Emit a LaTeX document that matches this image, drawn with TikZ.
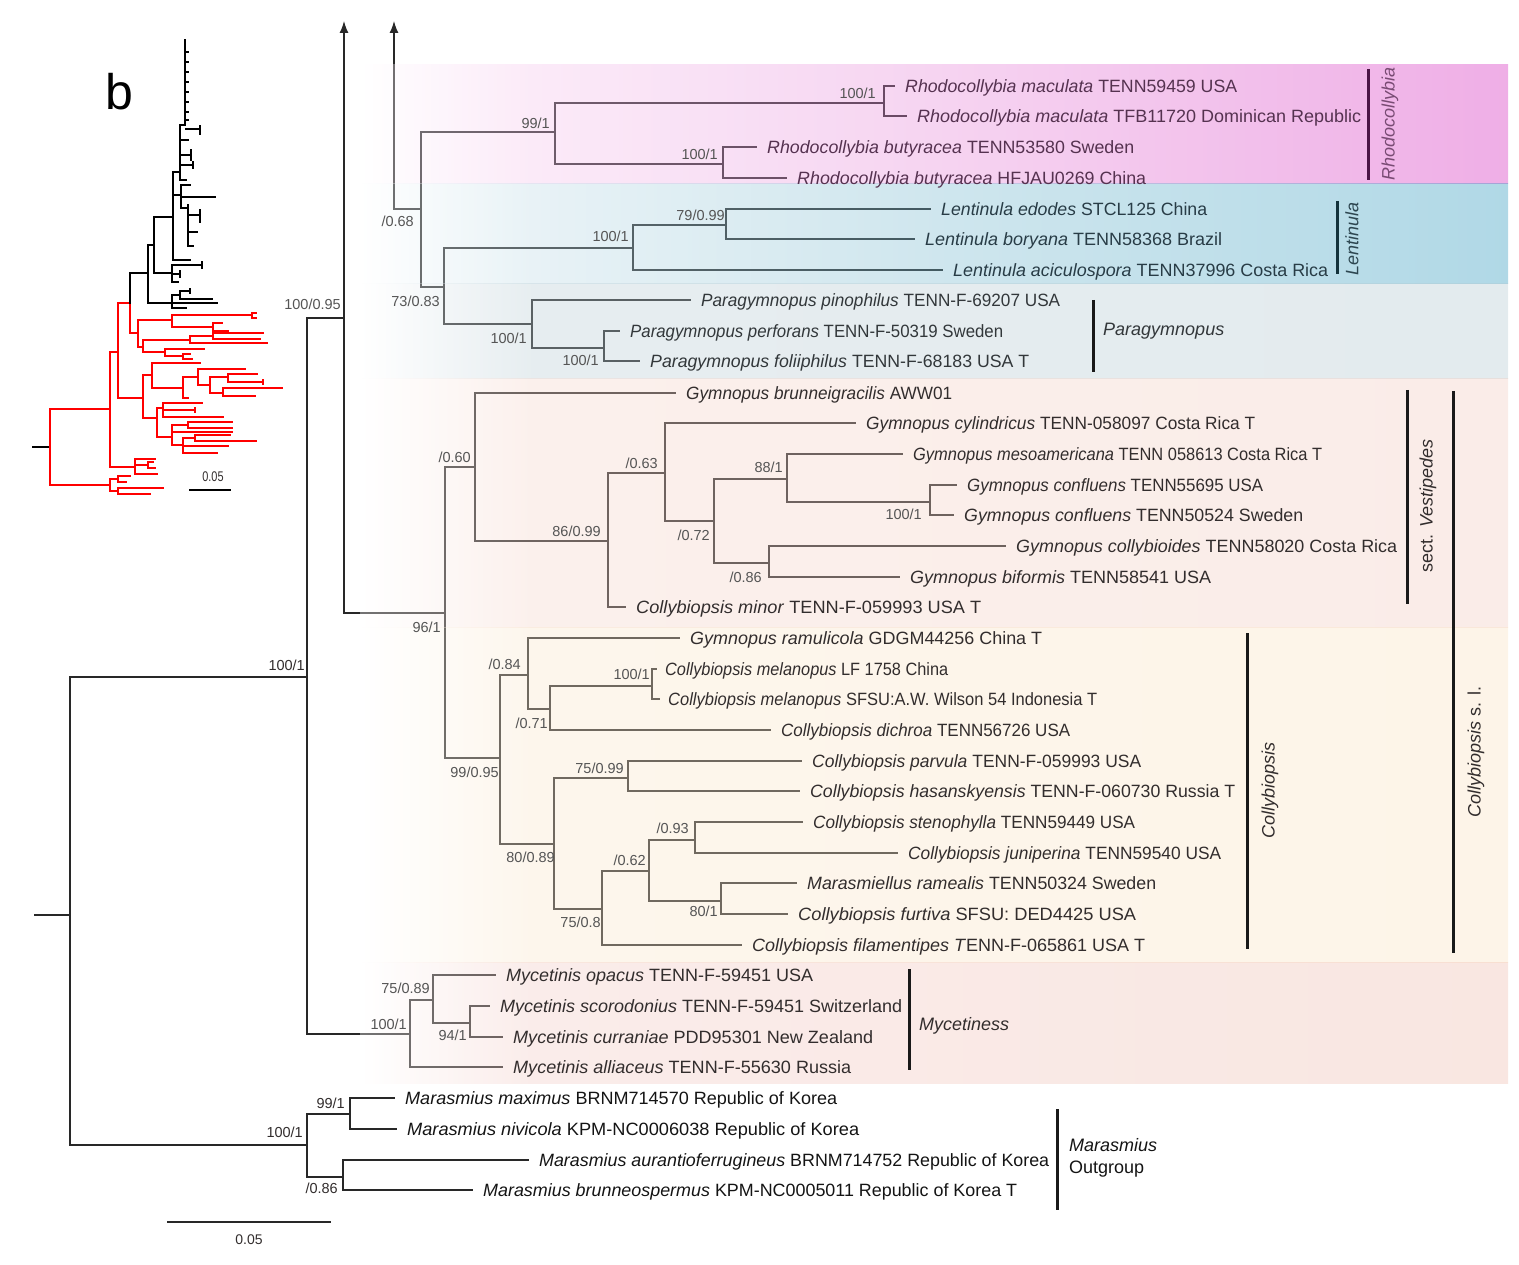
\documentclass[tikz,border=0pt]{standalone}
\usepackage{fontspec}
\setmainfont{Liberation Sans}
\usepackage{graphicx}
\usetikzlibrary{arrows.meta}
\definecolor{treec}{RGB}{40,40,40}
\definecolor{supc}{RGB}{85,85,85}
\definecolor{txP}{RGB}{85,50,80}
\definecolor{txB}{RGB}{40,60,70}
\definecolor{txG}{RGB}{50,55,58}
\definecolor{txO}{RGB}{50,45,45}
\definecolor{txM}{RGB}{20,20,20}
\definecolor{rhobar}{RGB}{75,20,70}
\definecolor{rholab}{RGB}{120,75,115}
\definecolor{lenbar}{RGB}{20,50,60}
\definecolor{lenlab}{RGB}{45,70,80}
\definecolor{barc}{RGB}{25,25,25}
\definecolor{pinkA}{RGB}{244,195,235}
\definecolor{pinkB}{RGB}{229,132,215}
\definecolor{pinkC}{RGB}{209,24,184}
\definecolor{blueA}{RGB}{189,218,229}
\definecolor{blueB}{RGB}{118,184,206}
\definecolor{blueC}{RGB}{29,144,184}
\definecolor{grayA}{RGB}{184,204,212}
\definecolor{grayC}{RGB}{175,198,206}
\definecolor{vestA}{RGB}{244,212,201}
\definecolor{vestC}{RGB}{241,201,189}
\definecolor{collA}{RGB}{249,229,201}
\definecolor{collC}{RGB}{249,224,189}
\definecolor{mycA}{RGB}{241,201,195}
\definecolor{mycC}{RGB}{238,184,169}
\pgfdeclarehorizontalshading{pinkband}{100bp}{color(0bp)=(white); color(25bp)=(white); color(32.5bp)=(pinkA); color(50bp)=(pinkB); color(75bp)=(pinkC); color(100bp)=(pinkC)}
\pgfdeclarehorizontalshading{blueband}{100bp}{color(0bp)=(white); color(25bp)=(white); color(32.5bp)=(blueA); color(50bp)=(blueB); color(75bp)=(blueC); color(100bp)=(blueC)}
\pgfdeclarehorizontalshading{grayband}{100bp}{color(0bp)=(white); color(25bp)=(white); color(32.5bp)=(grayA); color(75bp)=(grayC); color(100bp)=(grayC)}
\pgfdeclarehorizontalshading{vestband}{100bp}{color(0bp)=(white); color(25bp)=(white); color(32.5bp)=(vestA); color(75bp)=(vestC); color(100bp)=(vestC)}
\pgfdeclarehorizontalshading{collband}{100bp}{color(0bp)=(white); color(25bp)=(white); color(32.5bp)=(collA); color(75bp)=(collC); color(100bp)=(collC)}
\pgfdeclarehorizontalshading{mycband}{100bp}{color(0bp)=(white); color(25bp)=(white); color(32.5bp)=(mycA); color(75bp)=(mycC); color(100bp)=(mycC)}
\pgfdeclarelayer{lines}
\pgfdeclarelayer{bands}
\pgfsetlayers{lines,bands,main}
\newlength\fitlen
\newcommand\fitw[2]{\settowidth{\fitlen}{#2}\pgfmathsetmacro\fitf{#1/\fitlen}\scalebox{\fitf}[1]{#2}}
\newcommand\taxon[3]{\fitw{#1}{\textit{#2} #3}}
\begin{document}
\begin{tikzpicture}[x=1pt,y=-1pt,
  br/.style={line width=1.3pt, draw=treec, line cap=rect},
  leaf/.style={anchor=west, inner sep=0pt, text height=12.7pt, text depth=0pt, font=\fontsize{17.8}{20}\selectfont},
  lP/.style={leaf, text=txP}, lB/.style={leaf, text=txB}, lG/.style={leaf, text=txG},
  lO/.style={leaf, text=txO}, lM/.style={leaf, text=txM},
  sup/.style={anchor=east, inner sep=0pt, text height=10.4pt, text depth=0pt, font=\fontsize{14.5}{16}\selectfont, text=supc},
  cbar/.style={line width=3pt, draw=barc},
  clab/.style={inner sep=0pt, font=\fontsize{18}{20}\selectfont, text=txO},
  rlab/.style={clab, rotate=90},
  arr/.style={br, -{Latex[length=12pt,width=9pt]}},
  inr/.style={line width=1.2pt, draw=red, line cap=rect},
  inb/.style={line width=1.2pt, draw=black, line cap=rect}]
\useasboundingbox (0,0) rectangle (1519,1265);

% ---------------- tree node coordinates ----------------
\coordinate (stub) at (35,915);
\coordinate (root) at (70,915);
\coordinate (nA) at (307,677);
\coordinate (nMar) at (307,1145);
\coordinate (nB) at (344,318);
\coordinate (aT1) at (344,21);
\coordinate (nArr) at (394,209);
\coordinate (aT2) at (394,21);
\coordinate (n68) at (421,209);
\coordinate (nRh) at (555,132);
\coordinate (nRm) at (884,103);
\coordinate (nRb) at (723,164);
\coordinate (n73) at (444,287);
\coordinate (nLe) at (633,248);
\coordinate (nLe2) at (726,225);
\coordinate (nPa) at (532,324);
\coordinate (nPa2) at (604,348);
\coordinate (nC) at (445,613);
\coordinate (n60) at (475,467);
\coordinate (n86) at (608,541);
\coordinate (n63) at (665,473);
\coordinate (n72) at (714,521);
\coordinate (n88) at (787,479);
\coordinate (nCf) at (930,502);
\coordinate (n086) at (769,563);
\coordinate (n9995) at (500,758);
\coordinate (n84) at (528,675);
\coordinate (n71) at (550,709);
\coordinate (nMel) at (652,686);
\coordinate (n89) at (554,844);
\coordinate (n7599) at (628,778);
\coordinate (n758) at (602,909);
\coordinate (n62) at (649,871);
\coordinate (n93) at (695,840);
\coordinate (n801) at (721,901);
\coordinate (nMyc) at (410,1034);
\coordinate (n7589) at (433,1000);
\coordinate (n94) at (470,1023);
\coordinate (n99) at (350,1114);
\coordinate (n086b) at (343,1177);

% ---------------- leaves ----------------
\node[lP] (L1) at (905,86) {\taxon{332}{Rhodocollybia maculata}{TENN59459 USA}};
\node[lP] (L2) at (917,116) {\taxon{444}{Rhodocollybia maculata}{TFB11720 Dominican Republic}};
\node[lP] (L3) at (767,147) {\taxon{367}{Rhodocollybia butyracea}{TENN53580 Sweden}};
\node[lP] (L4) at (797,178) {\taxon{349}{Rhodocollybia butyracea}{HFJAU0269 China}};
\node[lB] (L5) at (941,209) {\taxon{266}{Lentinula edodes}{STCL125 China}};
\node[lB] (L6) at (925,239) {\taxon{297}{Lentinula boryana}{TENN58368 Brazil}};
\node[lB] (L7) at (953,270) {\taxon{375}{Lentinula aciculospora}{TENN37996 Costa Rica}};
\node[lG] (L8) at (701,300) {\taxon{359}{Paragymnopus pinophilus}{TENN-F-69207 USA}};
\node[lG] (L9) at (630,331) {\taxon{373}{Paragymnopus perforans}{TENN-F-50319 Sweden}};
\node[lG] (L10) at (650,361) {\taxon{379}{Paragymnopus foliiphilus}{TENN-F-68183 USA T}};
\node[lO] (L11) at (686,393) {\taxon{266}{Gymnopus brunneigracilis}{AWW01}};
\node[lO] (L12) at (866,423) {\taxon{389}{Gymnopus cylindricus}{TENN-058097 Costa Rica T}};
\node[lO] (L13) at (913,454) {\taxon{409}{Gymnopus mesoamericana}{TENN 058613 Costa Rica T}};
\node[lO] (L14) at (967,485) {\taxon{296}{Gymnopus confluens}{TENN55695 USA}};
\node[lO] (L15) at (964,515) {\taxon{339}{Gymnopus confluens}{TENN50524 Sweden}};
\node[lO] (L16) at (1016,546) {\taxon{381}{Gymnopus collybioides}{TENN58020 Costa Rica}};
\node[lO] (L17) at (910,577) {\taxon{301}{Gymnopus biformis}{TENN58541 USA}};
\node[lO] (L18) at (636,607) {\taxon{345}{Collybiopsis minor}{TENN-F-059993 USA T}};
\node[lO] (L19) at (690,638) {\taxon{352}{Gymnopus ramulicola}{GDGM44256 China T}};
\node[lO] (L20) at (665,669) {\taxon{283}{Collybiopsis melanopus}{LF 1758 China}};
\node[lO] (L21) at (668,699) {\taxon{429}{Collybiopsis melanopus}{SFSU:A.W. Wilson 54 Indonesia T}};
\node[lO] (L22) at (781,730) {\taxon{289}{Collybiopsis dichroa}{TENN56726 USA}};
\node[lO] (L23) at (812,761) {\taxon{329}{Collybiopsis parvula}{TENN-F-059993 USA}};
\node[lO] (L24) at (810,791) {\taxon{425}{Collybiopsis hasanskyensis}{TENN-F-060730 Russia T}};
\node[lO] (L25) at (813,822) {\taxon{322}{Collybiopsis stenophylla}{TENN59449 USA}};
\node[lO] (L26) at (908,853) {\taxon{313}{Collybiopsis juniperina}{TENN59540 USA}};
\node[lO] (L27) at (807,883) {\taxon{349}{Marasmiellus ramealis}{TENN50324 Sweden}};
\node[lO] (L28) at (798,914) {\taxon{338}{Collybiopsis furtiva}{SFSU: DED4425 USA}};
\node[lO] (L29) at (752,945) {\fitw{393}{\textit{Collybiopsis filamentipes T}ENN-F-065861 USA T}};
\node[lO] (L30) at (506,975) {\taxon{307}{Mycetinis opacus}{TENN-F-59451 USA}};
\node[lO] (L31) at (500,1006) {\taxon{402}{Mycetinis scorodonius}{TENN-F-59451 Switzerland}};
\node[lO] (L32) at (513,1037) {\taxon{360}{Mycetinis curraniae}{PDD95301 New Zealand}};
\node[lO] (L33) at (513,1067) {\taxon{338}{Mycetinis alliaceus}{TENN-F-55630 Russia}};
\node[lM] (L34) at (405,1098) {\taxon{432}{Marasmius maximus}{BRNM714570 Republic of Korea}};
\node[lM] (L35) at (407,1129) {\taxon{452}{Marasmius nivicola}{KPM-NC0006038 Republic of Korea}};
\node[lM] (L36) at (539,1160) {\taxon{510}{Marasmius aurantioferrugineus}{BRNM714752 Republic of Korea}};
\node[lM] (L37) at (483,1190) {\taxon{534}{Marasmius brunneospermus}{KPM-NC0005011 Republic of Korea T}};

% ---------------- support values ----------------
\node[sup] (s1) at (341,304) {100/0.95};
\node[sup, text=txO] (s2) at (305,665) {100/1};
\node[sup, text=txO] (s3) at (303,1132) {100/1};
\node[sup, text=txO] (s4) at (345,1103) {99/1};
\node[sup, text=txO] (s5) at (338,1188) {/0.86};
\node[sup] (s6) at (407,1024) {100/1};
\node[sup] (s7) at (430,988) {75/0.89};
\node[sup] (s8) at (467,1035) {94/1};
\node[sup] (s9) at (441,627) {96/1};
\node[sup] (s10) at (471,457) {/0.60};
\node[sup] (s11) at (601,531) {86/0.99};
\node[sup] (s12) at (658,463) {/0.63};
\node[sup] (s13) at (783,467) {88/1};
\node[sup] (s14) at (710,535) {/0.72};
\node[sup] (s15) at (922,514) {100/1};
\node[sup] (s16) at (762,577) {/0.86};
\node[sup] (s17) at (499,772) {99/0.95};
\node[sup] (s18) at (521,664) {/0.84};
\node[sup] (s19) at (650,674) {100/1};
\node[sup] (s20) at (548,723) {/0.71};
\node[sup] (s21) at (624,768) {75/0.99};
\node[sup] (s22) at (555,857) {80/0.89};
\node[sup] (s23) at (689,828) {/0.93};
\node[sup] (s24) at (646,860) {/0.62};
\node[sup] (s25) at (718,911) {80/1};
\node[sup] (s26) at (601,922) {75/0.8};
\node[sup] (s27) at (414,221) {/0.68};
\node[sup] (s28) at (440,301) {73/0.83};
\node[sup] (s29) at (550,123) {99/1};
\node[sup] (s30) at (876,93) {100/1};
\node[sup] (s31) at (718,154) {100/1};
\node[sup] (s32) at (725,215) {79/0.99};
\node[sup] (s33) at (629,236) {100/1};
\node[sup] (s34) at (527,338) {100/1};
\node[sup] (s35) at (599,360) {100/1};

% ---------------- clade bars and labels ----------------
\coordinate (bR1) at (1368,69);   \coordinate (bR2) at (1368,180);
\coordinate (bL1) at (1337,201);  \coordinate (bL2) at (1337,274);
\coordinate (bP1) at (1093,300);  \coordinate (bP2) at (1093,372);
\coordinate (bV1) at (1407,390);  \coordinate (bV2) at (1407,604);
\coordinate (bC1) at (1247,633);  \coordinate (bC2) at (1247,949);
\coordinate (bS1) at (1453,391);  \coordinate (bS2) at (1453,953);
\coordinate (bY1) at (909,969);   \coordinate (bY2) at (909,1070);
\coordinate (bM1) at (1057,1109); \coordinate (bM2) at (1057,1210);
\draw[cbar, draw=rhobar] (bR1) -- (bR2);
\draw[cbar, draw=lenbar] (bL1) -- (bL2);
\draw[cbar] (bP1) -- (bP2);
\draw[cbar] (bV1) -- (bV2);
\draw[cbar] (bC1) -- (bC2);
\draw[cbar] (bS1) -- (bS2);
\draw[cbar] (bY1) -- (bY2);
\draw[cbar] (bM1) -- (bM2);
\node[rlab, text=rholab] (tR) at (1390,124) {\textit{Rhodocollybia}};
\node[rlab, text=lenlab] (tL) at (1352,239) {\textit{Lentinula}};
\node[clab, anchor=west, text=txG] (tP) at (1103,331) {\textit{Paragymnopus}};
\node[rlab] (tV) at (1428,506) {sect. \textit{Vestipedes}};
\node[rlab] (tC) at (1270,790) {\textit{Collybiopsis}};
\node[rlab] (tS) at (1476,752) {\textit{Collybiopsis} s. l.};
\node[clab, anchor=west] (tY) at (919,1026) {\textit{Mycetiness}};
\node[clab, anchor=west, text=txM] (tM) at (1069,1145) {\textit{Marasmius}};
\node[clab, anchor=west, text=txM] (tO) at (1069,1169) {Outgroup};

% ---------------- scale bar ----------------
\coordinate (sbA) at (168,1222); \coordinate (sbB) at (330,1222);
\node[inner sep=0pt, font=\fontsize{14}{16}\selectfont, text=txO] (sbT) at (249,1240) {0.05};

% ---------------- inset ----------------
\node[inner sep=0pt, font=\fontsize{50}{50}\selectfont] (bl) at (119,92) {b};
\node[inner sep=0pt, font=\fontsize{14}{14}\selectfont, text=txO] (isT) at (213,477) {\scalebox{0.78}[1]{0.05}};
\coordinate (isA) at (190,490); \coordinate (isB) at (230,490);

\begin{pgfonlayer}{lines}
\draw[inb, line width=1.5pt] (isA) -- (isB);
\draw[inb] (33,447) -- (50,447);
\draw[inr] (50,409) -- (50,485) (50,409) -- (110,409) (110,352) -- (110,467) (50,485) -- (110,485)
  (110,479) -- (110,491) (110,479) -- (118,479) (118,476) -- (118,482) (118,476) -- (130,476) (118,482) -- (126,482)
  (110,491) -- (118,491) (118,488) -- (118,494) (118,488) -- (163,488) (118,494) -- (150,494)
  (110,467) -- (135,467) (135,459) -- (135,474) (135,459) -- (155,459) (135,465) -- (148,465) (148,462) -- (148,468) (148,462) -- (153,462) (148,468) -- (155,468) (135,474) -- (157,474)
  (110,352) -- (118,352) (118,303) -- (118,398) (118,303) -- (130,303) (130,303) -- (130,333)
  (130,333) -- (138,333) (138,320) -- (138,347)
  (138,320) -- (172,320) (172,315) -- (172,327) (172,315) -- (252,315) (252,313) -- (252,318) (252,313) -- (256,313) (252,318) -- (256,318)
  (172,327) -- (213,327) (213,323) -- (213,331) (213,323) -- (222,323) (213,331) -- (228,331)
  (138,347) -- (143,347) (143,340) -- (143,352)
  (143,340) -- (190,340) (190,336) -- (190,343) (190,336) -- (213,336) (213,333) -- (213,339) (213,333) -- (263,333) (213,339) -- (260,339) (190,343) -- (267,343)
  (143,352) -- (165,352) (165,349) -- (165,356) (165,349) -- (204,349) (165,356) -- (183,356) (183,354) -- (183,359) (183,354) -- (190,354) (183,359) -- (192,359)
  (118,398) -- (143,398) (143,375) -- (143,418)
  (143,375) -- (152,375) (152,363) -- (152,388) (152,363) -- (200,363)
  (152,388) -- (183,388) (183,377) -- (183,398) (183,398) -- (188,398)
  (183,377) -- (198,377) (198,369) -- (198,385) (198,369) -- (245,369)
  (198,385) -- (210,385) (210,377) -- (210,393)
  (210,377) -- (228,377) (228,374) -- (228,382) (228,374) -- (257,374) (228,382) -- (263,382) (263,380) -- (263,384)
  (210,393) -- (223,393) (223,388) -- (223,396) (223,388) -- (282,388) (223,396) -- (255,396)
  (143,418) -- (157,418) (157,408) -- (157,437)
  (157,408) -- (163,408) (163,403) -- (163,417) (163,403) -- (202,403) (163,410) -- (195,410) (195,408) -- (195,412) (163,417) -- (223,417)
  (157,437) -- (172,437) (172,425) -- (172,445)
  (172,425) -- (188,425) (188,422) -- (188,428) (188,422) -- (232,422) (188,428) -- (232,428) (172,432) -- (232,432)
  (172,445) -- (183,445) (183,438) -- (183,453) (183,438) -- (195,438) (195,435) -- (195,441) (195,435) -- (230,435) (195,441) -- (256,441) (183,446) -- (228,446) (183,453) -- (217,453);
\draw[inb] (130,273) -- (130,303) (130,273) -- (148,273) (148,245) -- (148,303)
  (148,303) -- (172,303) (172,295) -- (172,308) (172,295) -- (180,295) (180,291) -- (180,299) (180,291) -- (190,291) (190,289) -- (190,293) (180,299) -- (212,299) (172,303) -- (217,303) (172,308) -- (186,308)
  (148,245) -- (154,245) (154,217) -- (154,273)
  (154,273) -- (172,273) (172,265) -- (172,282) (172,265) -- (202,265) (202,262) -- (202,268) (172,274) -- (180,274) (180,271) -- (180,277) (172,282) -- (178,282)
  (154,217) -- (173,217) (173,172) -- (173,260) (173,260) -- (190,260)
  (173,195) -- (181,195) (181,185) -- (181,208) (181,185) -- (190,185) (181,197) -- (215,197)
  (181,208) -- (188,208) (188,205) -- (188,246) (188,215) -- (200,215) (200,210) -- (200,222) (188,232) -- (197,232) (188,246) -- (193,246)
  (173,172) -- (180,172) (180,125) -- (180,180) (180,180) -- (186,180)
  (180,125) -- (185,125)
  (186,129) -- (200,129) (200,126) -- (200,134)
  (180,140) -- (188,140) (180,155) -- (191,155) (191,150) -- (191,160) (180,165) -- (193,165) (193,162) -- (193,168);
\draw[inb, line width=1.7pt] (185,40) -- (185,125);
\foreach \yy in {52,62,72,82,92,102,112,120} \draw[inb] (185,\yy) -- (188,\yy);

% main tree
\draw[br] (sbA) -- (sbB);
\draw[br] (stub) -- (root);
\draw[br] (root) |- (nA); \draw[br] (root) |- (nMar);
\draw[br] (nA) |- (nB); \draw[br] (nA) |- (nMyc);
\draw[br] (nB) |- (nC);
\draw[arr] (nB) -- (aT1);
\draw[arr] (nArr) -- (aT2);
\draw[br] (nArr) -- (n68);
\draw[br] (n68) |- (nRh); \draw[br] (n68) |- (n73);
\draw[br] (nRh) |- (nRm); \draw[br] (nRh) |- (nRb);
\draw[br] (nRm) |- ([xshift=-11pt]L1.west); \draw[br] (nRm) |- ([xshift=-11pt]L2.west);
\draw[br] (nRb) |- ([xshift=-11pt]L3.west); \draw[br] (nRb) |- ([xshift=-11pt]L4.west);
\draw[br] (n73) |- (nLe); \draw[br] (n73) |- (nPa);
\draw[br] (nLe) |- (nLe2); \draw[br] (nLe) |- ([xshift=-11pt]L7.west);
\draw[br] (nLe2) |- ([xshift=-11pt]L5.west); \draw[br] (nLe2) |- ([xshift=-11pt]L6.west);
\draw[br] (nPa) |- ([xshift=-11pt]L8.west); \draw[br] (nPa) |- (nPa2);
\draw[br] (nPa2) |- ([xshift=-11pt]L9.west); \draw[br] (nPa2) |- ([xshift=-11pt]L10.west);
\draw[br] (nC) |- (n60); \draw[br] (nC) |- (n9995);
\draw[br] (n60) |- ([xshift=-11pt]L11.west); \draw[br] (n60) |- (n86);
\draw[br] (n86) |- (n63); \draw[br] (n86) |- ([xshift=-11pt]L18.west);
\draw[br] (n63) |- ([xshift=-11pt]L12.west); \draw[br] (n63) |- (n72);
\draw[br] (n72) |- (n88); \draw[br] (n72) |- (n086);
\draw[br] (n88) |- ([xshift=-11pt]L13.west); \draw[br] (n88) |- (nCf);
\draw[br] (nCf) |- ([xshift=-11pt]L14.west); \draw[br] (nCf) |- ([xshift=-11pt]L15.west);
\draw[br] (n086) |- ([xshift=-11pt]L16.west); \draw[br] (n086) |- ([xshift=-11pt]L17.west);
\draw[br] (n9995) |- (n84); \draw[br] (n9995) |- (n89);
\draw[br] (n84) |- ([xshift=-11pt]L19.west); \draw[br] (n84) |- (n71);
\draw[br] (n71) |- (nMel); \draw[br] (n71) |- ([xshift=-11pt]L22.west);
\draw[br] (nMel) |- ([xshift=-9pt]L20.west); \draw[br] (nMel) |- ([xshift=-9pt]L21.west);
\draw[br] (n89) |- (n7599); \draw[br] (n89) |- (n758);
\draw[br] (n7599) |- ([xshift=-11pt]L23.west); \draw[br] (n7599) |- ([xshift=-11pt]L24.west);
\draw[br] (n758) |- (n62); \draw[br] (n758) |- ([xshift=-11pt]L29.west);
\draw[br] (n62) |- (n93); \draw[br] (n62) |- (n801);
\draw[br] (n93) |- ([xshift=-11pt]L25.west); \draw[br] (n93) |- ([xshift=-11pt]L26.west);
\draw[br] (n801) |- ([xshift=-11pt]L27.west); \draw[br] (n801) |- ([xshift=-11pt]L28.west);
\draw[br] (nMyc) |- (n7589); \draw[br] (nMyc) |- ([xshift=-11pt]L33.west);
\draw[br] (n7589) |- ([xshift=-11pt]L30.west); \draw[br] (n7589) |- (n94);
\draw[br] (n94) |- ([xshift=-11pt]L31.west); \draw[br] (n94) |- ([xshift=-11pt]L32.west);
\draw[br] (nMar) |- (n99); \draw[br] (nMar) |- (n086b);
\draw[br] (n99) |- ([xshift=-11pt]L34.west); \draw[br] (n99) |- ([xshift=-11pt]L35.west);
\draw[br] (n086b) |- ([xshift=-11pt]L36.west); \draw[br] (n086b) |- ([xshift=-11pt]L37.west);
\end{pgfonlayer}

% ---------------- coloured bands (semi-transparent overlay) ----------------
\begin{pgfonlayer}{bands}
\shade[shading=pinkband, opacity=0.35] (360,65) rectangle (1508,184);
\shade[shading=blueband, opacity=0.35] (360,184) rectangle (1508,284);
\shade[shading=grayband, opacity=0.35] (360,284) rectangle (1508,379);
\shade[shading=vestband, opacity=0.35] (360,379) rectangle (1508,627);
\shade[shading=collband, opacity=0.35] (360,627) rectangle (1508,962);
\shade[shading=mycband, opacity=0.35] (360,962) rectangle (1508,1083);
\end{pgfonlayer}
\end{tikzpicture}
\end{document}
